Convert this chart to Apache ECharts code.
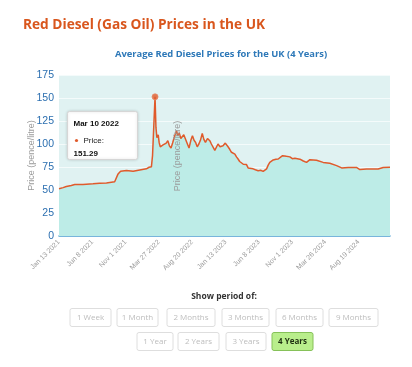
<!DOCTYPE html>
<html><head><meta charset="utf-8">
<script src="https://cdn.jsdelivr.net/npm/echarts@6/dist/echarts.min.js"></script>
<style>html,body{margin:0;padding:0;background:#fff;}#c{width:412px;height:367px;}</style>
</head><body><div id="c"></div>
<script>
var dates = ["2021-01-13","2021-01-31","2021-02-14","2021-03-08","2021-03-23","2021-04-28","2021-06-11","2021-07-10","2021-08-09","2021-09-14","2021-09-22","2021-09-29","2021-10-10","2021-11-05","2021-12-04","2022-01-02","2022-01-31","2022-02-12","2022-02-22","2022-02-27","2022-03-10","2022-03-14","2022-03-18","2022-03-24","2022-03-28","2022-04-02","2022-04-07","2022-04-14","2022-04-21","2022-04-28","2022-05-05","2022-05-12","2022-05-19","2022-05-26","2022-06-02","2022-06-12","2022-06-18","2022-06-24","2022-07-01","2022-07-08","2022-07-14","2022-07-20","2022-07-30","2022-08-06","2022-08-14","2022-08-21","2022-08-28","2022-09-04","2022-09-11","2022-09-18","2022-09-25","2022-10-03","2022-10-10","2022-10-17","2022-10-26","2022-11-05","2022-11-12","2022-11-19","2022-11-27","2022-12-04","2022-12-11","2022-12-20","2023-01-02","2023-01-12","2023-01-24","2023-02-01","2023-02-08","2023-02-15","2023-02-23","2023-03-02","2023-03-09","2023-03-16","2023-03-24","2023-04-01","2023-04-15","2023-04-22","2023-04-29","2023-05-14","2023-05-24","2023-06-05","2023-06-16","2023-06-27","2023-07-05","2023-07-12","2023-07-19","2023-07-26","2023-08-10","2023-08-22","2023-09-01","2023-09-20","2023-10-07","2023-10-22","2023-11-02","2023-11-13","2023-12-05","2023-12-20","2024-01-03","2024-01-18","2024-02-16","2024-03-16","2024-04-14","2024-05-14","2024-06-05","2024-07-04","2024-08-09","2024-08-24","2024-09-22","2024-09-29","2024-10-14","2024-11-12","2024-12-04","2025-01-03"];
var prices = [51.3,52.6,53.8,54.9,56.0,56.0,56.7,57.4,57.7,58.9,59.6,67.5,70.4,71.1,70.4,71.8,73.0,74.7,75.2,87.3,151.29,118,107,110,101.7,97,95.7,99,97,101,103.6,98,95.7,101,107,114.4,109,112,106,105.4,110,109,100,95.7,104,109,104,101.7,97,100,104,111.5,105,101.7,106,103.6,100,98,93,91,100,97,98,101,97,94,91,93,89,86,83.7,81,79,78,77.6,74,74,73,72,71,71.5,70.3,71,73,77,80,82.7,83.5,83.7,87.3,86.6,86,84,84.6,83.5,81.5,80,83,82.3,80,79,76.5,74,74.5,74.5,72.2,72.9,75,72.9,72.9,74.5,74.7];
var yTicks = [0,25,50,75,100,125,150,175];
var periodRow1 = ["1 Week","1 Month","2 Months","3 Months","6 Months","9 Months"];
var periodRow2 = ["1 Year","2 Years","3 Years","4 Years"];
var activePeriod = "4 Years";

var MONTHS = ["Jan","Feb","Mar","Apr","May","Jun","Jul","Aug","Sep","Oct","Nov","Dec"];
var DAY = 86400000;
function toMs(s){var p=s.split("-");return Date.UTC(+p[0],+p[1]-1,+p[2]);}
var t0 = toMs(dates[0]);
function off(s){return Math.round((toMs(s)-t0)/DAY);}
function fmt(d){var dt=new Date(t0+d*DAY);return MONTHS[dt.getUTCMonth()]+" "+dt.getUTCDate()+" "+dt.getUTCFullYear();}
var seriesData = dates.map(function(d,i){return [off(d),prices[i]];});
var peakIdx = 0; prices.forEach(function(v,i){ if(v>prices[peakIdx]) peakIdx=i; });

var chart = echarts.init(document.getElementById('c'));
var graphics = [];
// stray axis name in middle of chart
graphics.push({type:'text',x:178,y:156,z:50,rotation:Math.PI/2,style:{text:'Price (pence/litre)',font:'9px "Liberation Sans", Arial',fill:'#9a9a9a',align:'center',verticalAlign:'middle'}});
// tooltip-like box
graphics.push({type:'group',left:67,top:111,z:60,children:[
  {type:'rect',z:60,shape:{x:0,y:0,width:70,height:48,r:2},style:{fill:'#fff',stroke:'#d6d6d6',lineWidth:1,shadowBlur:3,shadowColor:'rgba(0,0,0,0.15)'}},
  {type:'text',z:61,left:6,top:8,style:{text:fmt(off(dates[peakIdx])),font:'bold 8px "Liberation Sans", Arial',fill:'#111'}},
  {type:'circle',z:61,shape:{cx:9,cy:29,r:1.6},style:{fill:'#e05a2b'}},
  {type:'text',z:61,left:16,top:25,style:{text:'Price:',font:'8px "Liberation Sans", Arial',fill:'#222'}},
  {type:'text',z:61,left:6,top:38,style:{text:String(prices[peakIdx]),font:'bold 8px "Liberation Sans", Arial',fill:'#111'}}
]});
// period selector
graphics.push({type:'text',x:224,y:297,style:{text:'Show period of:',font:'bold 8.5px "Open Sans"',fill:'#333',align:'center',verticalAlign:'middle'}});
function buttons(labels, xs, y){
  labels.forEach(function(l,i){
    var act = l===activePeriod;
    graphics.push({type:'rect',shape:{x:xs[i][0],y:y,width:xs[i][1]-xs[i][0],height:18,r:2},style:{fill:act?'#b9ee8c':'#fff',stroke:act?'#86c159':'#dedede',lineWidth:1}});
    graphics.push({type:'text',x:(xs[i][0]+xs[i][1])/2,y:y+9,style:{text:l,font:(act?'bold ':'')+'8px "Open Sans"',fill:act?'#1d2e10':'#bdbdbd',align:'center',verticalAlign:'middle'}});
  });
}
buttons(periodRow1, [[70,111],[117,158],[167,215],[222,269],[276,323],[329,378]], 308.5);
buttons(periodRow2, [[137,173],[178,219],[226,266],[272,313]], 332.5);

chart.setOption({
  animation:false,
  backgroundColor:'#fff',
  title:[
    {text:'Red Diesel (Gas Oil) Prices in the UK',left:18,top:13,textStyle:{fontFamily:'Open Sans',fontWeight:'bold',fontSize:13.7,color:'#d9561d'}},
    {text:'Average Red Diesel Prices for the UK (4 Years)',left:110,top:45,textStyle:{fontFamily:'Open Sans',fontWeight:'bold',fontSize:9.4,color:'#2d78b8'}}
  ],
  grid:{left:59,right:22,top:75,bottom:131,show:true,backgroundColor:'#e0f2f2',borderWidth:0},
  xAxis:{type:'value',min:0,max:off(dates[dates.length-1]),interval:146,
    axisLine:{lineStyle:{color:'#4f9fd2',width:1.5}},axisTick:{show:false},splitLine:{show:false},
    axisLabel:{rotate:45,fontSize:7,color:'#9a9a9a',fontFamily:'Liberation Sans',margin:5,showMaxLabel:false,formatter:function(v){return fmt(v);}}},
  yAxis:{type:'value',min:yTicks[0],max:yTicks[yTicks.length-1],interval:25,
    name:'Price (pence/litre)',nameLocation:'middle',nameGap:23,nameMoveOverlap:false,nameTextStyle:{color:'#9a9a9a',fontSize:9,fontFamily:'Liberation Sans'},
    axisLine:{show:false},axisTick:{show:false},
    splitLine:{lineStyle:{color:'#f4fbfb',width:1}},
    axisLabel:{color:'#2c6fb0',fontSize:10.5,fontFamily:'Liberation Sans',margin:5}},
  series:[
    {type:'line',data:seriesData,showSymbol:false,lineStyle:{color:'#e05a2b',width:1.5},areaStyle:{color:'#bdece7',opacity:1},z:2},
    {type:'scatter',data:[seriesData[peakIdx]],symbolSize:6,itemStyle:{color:'#e05a2b',borderColor:'#e88a66',borderWidth:1},z:3}
  ],
  graphic:graphics
});
</script></body></html>
